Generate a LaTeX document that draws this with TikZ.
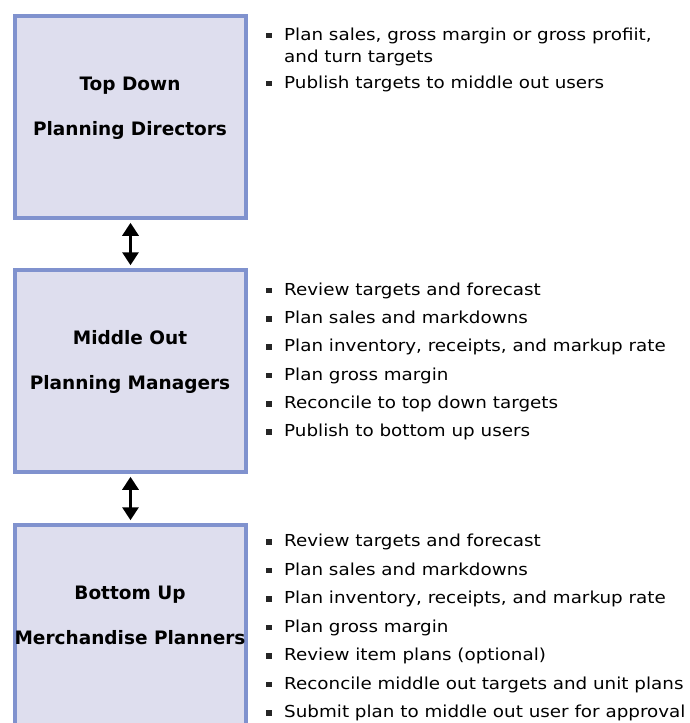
\documentclass[tikz,border=0pt]{standalone}
\usepackage{fontspec}
\setmainfont{DejaVu Sans}[FakeStretch=1.11]
\newfontfamily\headfont{DejaVu Sans Bold}
\usepackage{tikz}
\usetikzlibrary{positioning,arrows.meta}
\definecolor{boxline}{RGB}{128,146,206}
\definecolor{boxfill}{RGB}{222,222,238}

\begin{document}
\begin{tikzpicture}[x=1pt,y=-1pt]
\tikzstyle{planbox}=[rectangle, minimum width=231pt, minimum height=202pt, line width=3.5pt, draw=boxline, fill=boxfill]
\tikzstyle{head}=[anchor=base, inner sep=0pt, font=\headfont\fontsize{18.5}{20}\selectfont]
\tikzstyle{bulletsq}=[rectangle, minimum size=5.5pt, inner sep=0pt, fill=black!85]
\tikzstyle{item}=[anchor=base west, inner sep=0pt, text height=12pt, text depth=3pt, font=\fontsize{16.5}{20}\selectfont, label={[bulletsq, label distance=12pt]left:{}}]
\tikzstyle{cont}=[anchor=base west, inner sep=0pt, font=\fontsize{16.5}{20}\selectfont]
\tikzstyle{connect}=[{Triangle[width=16pt,length=13pt]}-{Triangle[width=16pt,length=13pt]}, line width=3pt, shorten <=3pt, shorten >=3pt]
\useasboundingbox (0,0) rectangle (689,723);
	\node[planbox] (td) at (130.5,117) {};
	\node[planbox] (mo) at (130.5,371) {};
	\node[planbox, minimum height=240pt] (bu) at (130.5,645) {};

	\node[head] (td_a) at (130,90) {Top Down};
	\node[head] (td_b) at (130,135) {Planning Directors};
	\node[head] (mo_a) at (130,344) {Middle Out};
	\node[head] (mo_b) at (130,389) {Planning Managers};
	\node[head] (bu_a) at (130,599) {Bottom Up};
	\node[head] (bu_b) at (130,644) {Merchandise Planners};

	% top down tasks
	\node[item] (td1) at (284,40) {Plan sales, gross margin or gross profiit,};
	\node[cont] (td1b) at (284,62.5) {and turn targets};
	\node[item] (td2) at (284,88) {Publish targets to middle out users};

	% middle out tasks
	\node[item] (mo1) at (284,295) {Review targets and forecast};
	\node[item] (mo2) at (284,323.3) {Plan sales and markdowns};
	\node[item] (mo3) at (284,351.7) {Plan inventory, receipts, and markup rate};
	\node[item] (mo4) at (284,380) {Plan gross margin};
	\node[item] (mo5) at (284,408.3) {Reconcile to top down targets};
	\node[item] (mo6) at (284,436.7) {Publish to bottom up users};

	% bottom up tasks
	\node[item] (bu1) at (284,546.7) {Review targets and forecast};
	\node[item] (bu2) at (284,575) {Plan sales and markdowns};
	\node[item] (bu3) at (284,603.5) {Plan inventory, receipts, and markup rate};
	\node[item] (bu4) at (284,632) {Plan gross margin};
	\node[item] (bu5) at (284,660.5) {Review item plans (optional)};
	\node[item] (bu6) at (284,689) {Reconcile middle out targets and unit plans};
	\node[item] (bu7) at (284,717.5) {Submit plan to middle out user for approval};

	\path
		(td) edge[connect] (mo)
		(mo) edge[connect] (bu);
\end{tikzpicture}
\end{document}
